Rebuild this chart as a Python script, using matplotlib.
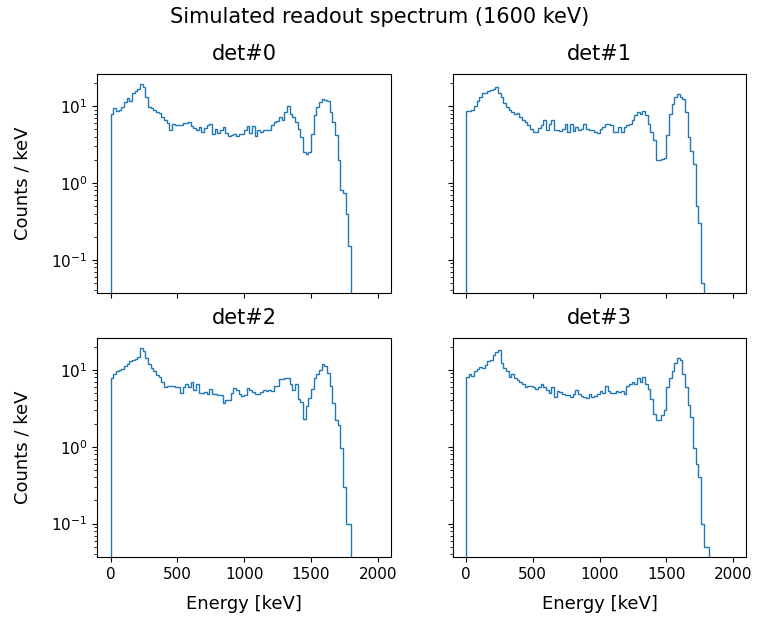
import matplotlib
matplotlib.use("Agg")
import matplotlib.pyplot as plt
import numpy as np

# readout counts per 20 keV bin, 0 - 2000 keV (bins past the listed ones are empty)
bin_width = 20
edges = np.arange(0, 2000 + bin_width, bin_width)

det0 = [158, 189, 170, 178, 193, 224, 255, 236, 293, 310,
        333, 386, 350, 260, 193, 189, 178, 166, 162, 144,
        130, 120, 97, 118, 112, 115, 115, 120, 120, 124,
        109, 104, 97, 107, 92, 104, 112, 118, 86, 101,
        89, 97, 107, 89, 81, 83, 86, 81, 87, 87,
        97, 109, 89, 109, 81, 97, 92, 97, 97, 98,
        112, 124, 127, 144, 132, 166, 203, 158, 144, 124,
        101, 79, 51, 47, 51, 87, 151, 197, 224, 247,
        240, 231, 166, 124, 83, 40, 16, 15, 8, 3]

det1 = [175, 175, 178, 203, 235, 265, 293, 300, 315, 320,
        333, 355, 300, 260, 217, 193, 178, 166, 158, 162,
        144, 132, 124, 112, 101, 92, 92, 104, 112, 130,
        98, 118, 130, 97, 98, 94, 101, 118, 93, 118,
        94, 107, 98, 101, 118, 101, 98, 97, 92, 89,
        101, 107, 118, 118, 115, 92, 92, 107, 92, 107,
        112, 118, 132, 151, 166, 158, 170, 151, 118, 92,
        72, 40, 40, 41, 42, 83, 158, 213, 260, 283,
        265, 247, 166, 79, 52, 35, 10, 6, 1]

det2 = [155, 175, 193, 197, 203, 224, 236, 258, 270, 280,
        293, 380, 350, 287, 236, 213, 193, 172, 162, 140,
        120, 124, 124, 124, 120, 118, 101, 118, 130, 118,
        137, 109, 130, 101, 101, 104, 98, 112, 98, 97,
        94, 94, 75, 81, 81, 101, 115, 109, 97, 92,
        94, 115, 109, 104, 98, 97, 104, 109, 107, 109,
        107, 124, 124, 151, 151, 156, 158, 130, 109, 130,
        83, 77, 46, 67, 87, 112, 158, 178, 197, 240,
        224, 183, 124, 73, 44, 38, 19, 6, 2, 2]

det3 = [162, 175, 166, 193, 203, 218, 213, 231, 260, 270,
        310, 340, 367, 247, 213, 193, 162, 178, 158, 147,
        137, 130, 118, 124, 124, 118, 112, 118, 130, 118,
        109, 101, 118, 89, 107, 104, 98, 94, 94, 89,
        97, 109, 98, 92, 89, 87, 98, 89, 92, 97,
        107, 101, 124, 107, 101, 101, 107, 104, 107, 97,
        124, 130, 137, 130, 158, 137, 162, 130, 112, 83,
        53, 44, 45, 51, 60, 120, 158, 193, 247, 287,
        270, 175, 118, 69, 48, 19, 12, 8, 2, 1,
        1]

detectors = ["det#0", "det#1", "det#2", "det#3"]
spectra = [det0, det1, det2, det3]

fig, axes = plt.subplots(2, 2, sharex=True, sharey=True, figsize=(7.59, 6.18), dpi=100)
fig.subplots_adjust(left=0.128, right=0.9835, top=0.880, bottom=0.099,
                    wspace=0.209, hspace=0.205)

for ax, name, counts in zip(axes.flat, detectors, spectra):
    counts = np.array(counts + [0] * (len(edges) - 1 - len(counts)), dtype=float)
    ax.stairs(counts / bin_width, edges, color="C0", linewidth=1.0)
    ax.set_yscale("log")
    ax.set_title(name, fontsize=15, pad=10)
    ax.tick_params(labelsize=11)

axes[0, 0].set_xlim(-100, 2100)
axes[0, 0].set_ylim(0.037, 26)
for ax in axes[:, 0]:
    ax.set_ylabel("Counts / keV", fontsize=13, labelpad=14)
for ax in axes[1, :]:
    ax.set_xlabel("Energy [keV]", fontsize=13, labelpad=10)

fig.suptitle("Simulated readout spectrum (1600 keV)", fontsize=15, y=0.988)
fig.savefig("out.png", dpi=100)
